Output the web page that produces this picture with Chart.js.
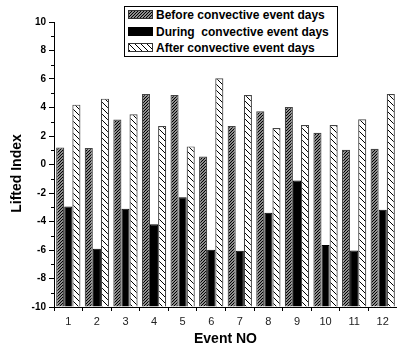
<!DOCTYPE html>
<html>
<head>
<meta charset="utf-8">
<script src="https://cdn.jsdelivr.net/npm/chart.js@4/dist/chart.umd.min.js"></script>
<style>
  html, body { margin: 0; padding: 0; background: #fff; }
  #wrap { position: relative; width: 397px; height: 350px; }
  #legend {
    position: absolute; left: 124px; top: 6px; width: 212px; height: 49px;
    border: 1px solid #000; background: #fff;
    font: bold 12px "Liberation Sans", Arial, sans-serif; color: #000;
  }
  #legend .row { position: absolute; left: 3px; height: 13px; line-height: 13px; white-space: pre; }
  #legend .sw { display: inline-block; width: 23px; height: 7px; border: 1px solid #333; vertical-align: 0px; margin-right: 3px; }
</style>
</head>
<body>
<div id="wrap">
  <canvas id="chart" width="397" height="350"></canvas>
  <div id="legend"></div>
</div>
<script>
const categories = ['1', '2', '3', '4', '5', '6', '7', '8', '9', '10', '11', '12'];
const seriesNames = ['Before convective event days', 'During  convective event days', 'After convective event days'];
const beforeValues = [1.2, 1.15, 3.15, 4.95, 4.88, 0.56, 2.7, 3.73, 4.03, 2.23, 1.03, 1.1];
const duringValues = [-2.95, -5.92, -3.1, -4.2, -2.3, -5.98, -6.05, -3.38, -1.12, -5.65, -6.03, -3.17];
const afterValues = [4.2, 4.62, 3.52, 2.7, 1.27, 6.05, 4.88, 2.56, 2.77, 2.77, 3.17, 4.95];
const yMin = -10, yMax = 10;
const yTitle = 'Lifted Index';

// hatch tiles
function hatchTile(size, dir, color, lw) {
  const c = document.createElement('canvas');
  c.width = size; c.height = size;
  const g = c.getContext('2d');
  g.fillStyle = '#fff';
  g.fillRect(0, 0, size, size);
  g.strokeStyle = color;
  g.lineWidth = lw;
  g.beginPath();
  if (dir === '/') {
    g.moveTo(0, size); g.lineTo(size, 0);
    g.moveTo(-1, 1); g.lineTo(1, -1);
    g.moveTo(size - 1, size + 1); g.lineTo(size + 1, size - 1);
  } else {
    g.moveTo(0, 0); g.lineTo(size, size);
    g.moveTo(size - 1, -1); g.lineTo(size + 1, 1);
    g.moveTo(-1, size - 1); g.lineTo(1, size + 1);
  }
  g.stroke();
  return c;
}

const ctx = document.getElementById('chart').getContext('2d');
const beforeTile = hatchTile(3, '/', '#000', 1.3);
const afterTile = hatchTile(6, '\\', '#000', 1);
const beforeFill = ctx.createPattern(beforeTile, 'repeat');
const afterFill = ctx.createPattern(afterTile, 'repeat');

// html legend
const legend = document.getElementById('legend');
const swatches = [
  'background-image:url(' + beforeTile.toDataURL() + ')',
  'background:#000;border-color:#000',
  'background-image:url(' + afterTile.toDataURL() + ')'
];
seriesNames.forEach((name, i) => {
  const row = document.createElement('div');
  row.className = 'row';
  row.style.top = (2 + i * 16.5) + 'px';
  row.innerHTML = '<span class="sw" style="' + swatches[i] + '"></span>';
  row.appendChild(document.createTextNode(name));
  legend.appendChild(row);
});

const font = '"Liberation Sans", Arial, sans-serif';

// minor ticks on the y axis (odd values) + y title sitting a bit below center
const axisExtras = {
  id: 'axisExtras',
  afterDraw(chart) {
    const y = chart.scales.y;
    const c = chart.ctx;
    c.save();
    c.strokeStyle = '#000';
    c.lineWidth = 1;
    c.beginPath();
    for (let v = yMin + 1; v < yMax; v += 2) {
      const py = Math.round(y.getPixelForValue(v)) + 0.5;
      c.moveTo(y.right - 3, py);
      c.lineTo(y.right, py);
    }
    c.stroke();

    c.translate(17, (chart.chartArea.top + chart.chartArea.bottom) / 2 + 9);
    c.rotate(-Math.PI / 2);
    c.fillStyle = '#000';
    c.font = 'bold 14px ' + font;
    c.textAlign = 'center';
    c.textBaseline = 'middle';
    c.fillText(yTitle, 0, 0);
    c.restore();
  }
};

new Chart(ctx, {
  type: 'bar',
  data: {
    labels: categories,
    datasets: [
      { label: seriesNames[0], data: beforeValues, base: yMin, backgroundColor: beforeFill, borderColor: '#444', borderWidth: 1.2 },
      { label: seriesNames[1], data: duringValues, base: yMin, backgroundColor: '#000', borderColor: '#000', borderWidth: 1 },
      { label: seriesNames[2], data: afterValues, base: yMin, backgroundColor: afterFill, borderColor: '#444', borderWidth: 1.2 }
    ]
  },
  options: {
    responsive: false,
    animation: false,
    layout: { padding: { left: 0, right: 0, top: 22, bottom: 0 } },
    datasets: { bar: { categoryPercentage: 0.85, barPercentage: 1.0 } },
    plugins: {
      legend: { display: false },
      tooltip: { enabled: false }
    },
    scales: {
      x: {
        offset: true,
        grid: { display: true, drawOnChartArea: false, offset: true, tickLength: 4, color: '#000' },
        border: { display: true, color: '#000', width: 1 },
        ticks: { color: '#222', font: { family: font, size: 11 }, padding: 4, maxRotation: 0 },
        title: { display: true, text: 'Event NO', color: '#000', font: { family: font, size: 14, weight: 'bold' }, padding: { top: 0, bottom: 2 } },
        afterFit(scale) { scale.height = 43; }
      },
      y: {
        min: yMin,
        max: yMax,
        grid: { display: true, drawOnChartArea: false, tickLength: 5, color: '#000' },
        border: { display: true, color: '#000', width: 1 },
        ticks: { stepSize: 2, color: '#000', font: { family: font, size: 10, weight: 'bold' }, padding: 3 },
        title: { display: false },
        afterFit(scale) { scale.width = 54; }
      }
    }
  },
  plugins: [axisExtras]
});
</script>
</body>
</html>
